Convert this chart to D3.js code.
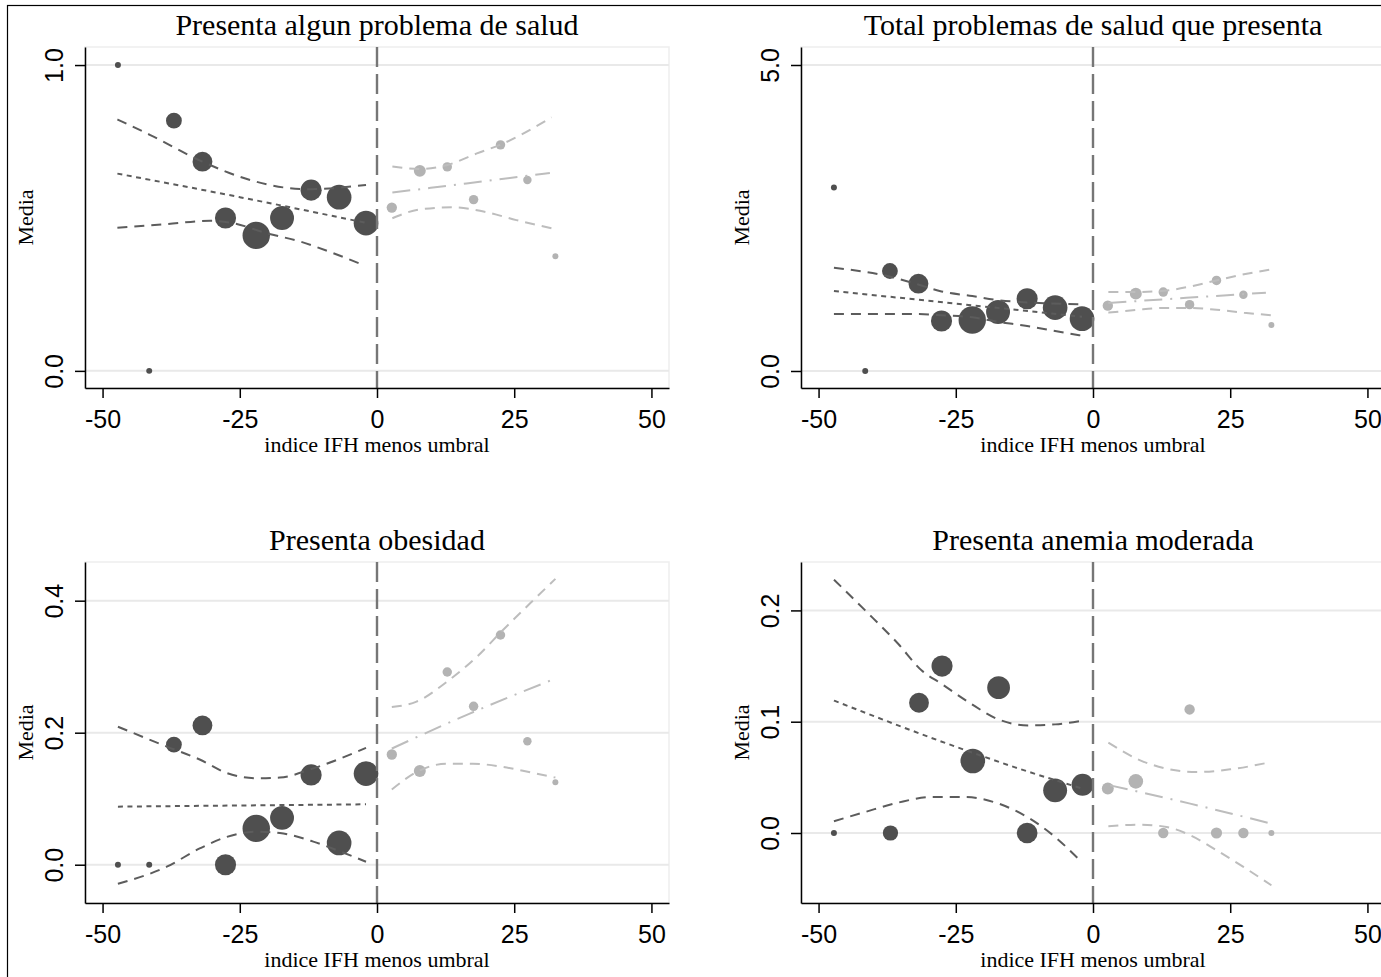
<html>

<head>
    <meta charset="utf-8">
    <script src="https://cdn.jsdelivr.net/npm/d3@7"></script>
    <style>
        body,
        html {
            padding: 0px;
            margin: 0px;
            background-color: white;
        }

        .title {
            font-family: "Liberation Serif", "Times New Roman", serif;
            font-size: 30px;
            text-anchor: middle;
            fill: #000;
        }

        .axis-title {
            font-family: "Liberation Serif", "Times New Roman", serif;
            font-size: 22px;
            text-anchor: middle;
            fill: #000;
        }

        .tick text {
            font-family: "Liberation Sans", Arial, sans-serif;
            font-size: 25px;
            fill: #000;
        }
    </style>
</head>

<body>
    <div id="container"></div>
    <script>
        // bins (x = indice IFH menos umbral) and observations per bin
        const binsLeft = [-47.2, -41.5, -37, -31.8, -27.6, -22, -17.3, -12, -6.9, -2];
        const binsRight = [2.7, 7.8, 12.8, 17.6, 22.5, 27.4, 32.5];
        const countsLeft = [2, 2, 14, 22, 25, 42, 32, 25, 34, 34];
        const countsRight = [6, 8, 5, 5, 5, 4, 2];

        // anemia has one empty bin and fewer obs
        const anemiaBinsLeft = [-47.2, -36.9, -31.7, -27.5, -21.9, -17.2, -12, -6.9, -1.9];
        const anemiaCountsLeft = [2, 13, 22, 25, 34, 29, 24, 32, 27];
        const anemiaCountsRight = [8, 12, 6, 6, 7, 6, 2];

        const titles = ["Presenta algun problema de salud", "Total problemas de salud que presenta",
            "Presenta obesidad", "Presenta anemia moderada"];
        const yTicks = [[0, 1], [0, 5], [0, 0.2, 0.4], [0, 0.1, 0.2]];
        const yDomains = [[-0.056, 1.059], [-0.278, 5.294], [-0.058, 0.4586], [-0.0629, 0.2435]];
        const xTicks = [-50, -25, 0, 25, 50];

        // Presenta algun problema de salud
        const saludLeft = [1.0, 0, 0.818, 0.684, 0.5, 0.443, 0.5, 0.591, 0.568, 0.483];
        const saludRight = [0.534, 0.654, 0.667, 0.56, 0.739, 0.624, 0.375];
        const saludFitL = [[-47.3, 0.645], [-25, 0.568], [-2, 0.484]];
        const saludHiL = [[-47.3, 0.822], [-41.3, 0.771], [-31.8, 0.684], [-23.1, 0.624], [-17.1, 0.600], [-12.2, 0.594], [-2, 0.608]];
        const saludLoL = [[-47.3, 0.468], [-38.3, 0.480], [-30.4, 0.491], [-26.2, 0.483], [-20.1, 0.45], [-14, 0.423], [-8, 0.385], [-3, 0.35]];
        const saludFitR = [[2.8, 0.583], [16.3, 0.613], [31.5, 0.647]];
        const saludHiR = [[2.8, 0.668], [7.8, 0.66], [12.8, 0.673], [18.2, 0.711], [22.4, 0.739], [31.8, 0.829]];
        const saludLoR = [[2.8, 0.499], [7.8, 0.528], [13.9, 0.535], [19.4, 0.521], [25.4, 0.493], [32.3, 0.464]];

        // Total problemas de salud
        const totalLeft = [3.0, 0, 1.634, 1.427, 0.817, 0.833, 0.964, 1.18, 1.035, 0.855];
        const totalRight = [1.067, 1.264, 1.29, 1.084, 1.48, 1.247, 0.752];
        const totalFitL = [[-47.2, 1.307], [-25, 1.101], [-2, 0.888]];
        const totalHiL = [[-47.2, 1.688], [-36.9, 1.54], [-31.7, 1.41], [-27.6, 1.30], [-22, 1.225], [-17.5, 1.16], [-12, 1.12], [-2, 1.09]];
        const totalLoL = [[-47.2, 0.931], [-31.7, 0.93], [-27.6, 0.91], [-22, 0.877], [-17.5, 0.806], [-12, 0.735], [-6.9, 0.654], [-2, 0.577]];
        const totalFitR = [[2.8, 1.111], [17, 1.195], [31.5, 1.28]];
        const totalHiR = [[2.8, 1.29], [7.8, 1.29], [12.9, 1.31], [17.7, 1.38], [22.5, 1.48], [27.5, 1.58], [32.5, 1.66]];
        const totalLoR = [[2.8, 0.953], [7.8, 0.997], [12.9, 1.03], [17.7, 1.03], [22.5, 1.0], [27.5, 0.953], [32.5, 0.91]];

        // Presenta obesidad
        const obesLeft = [0, 0, 0.182, 0.211, 0, 0.055, 0.071, 0.136, 0.033, 0.138];
        const obesRight = [0.167, 0.142, 0.292, 0.240, 0.348, 0.187, 0.125];
        const obesFitL = [[-47.2, 0.088], [-2, 0.0915]];
        const obesHiL = [[-47.2, 0.209], [-38.3, 0.179], [-32.2, 0.159], [-27.4, 0.139], [-21.9, 0.131], [-17.7, 0.132], [-11.6, 0.146], [-2, 0.177]];
        const obesLoL = [[-47.2, -0.029], [-38.3, -0.003], [-32.2, 0.025], [-27.4, 0.042], [-21.9, 0.05], [-17.7, 0.048], [-11.6, 0.035], [-6.7, 0.02], [-2, 0.0045]];
        const obesFitR = [[2.7, 0.176], [16.9, 0.229], [32.5, 0.282]];
        const obesHiR = [[2.7, 0.239], [7.2, 0.247], [12.7, 0.277], [18.2, 0.315], [23, 0.356], [27.9, 0.396], [32.5, 0.433]];
        const obesLoR = [[2.7, 0.114], [7.8, 0.143], [12.7, 0.153], [17.5, 0.153], [23, 0.148], [27.9, 0.14], [32.5, 0.132]];

        // Presenta anemia moderada
        const anemiaLeft = [0, 0, 0.117, 0.150, 0.0647, 0.1306, 0, 0.0383, 0.0434];
        const anemiaRight = [0.0399, 0.0464, 0, 0.111, 0, 0, 0];
        const anemiaFitL = [[-47.2, 0.119], [-26.4, 0.080], [-14.2, 0.059], [-2, 0.040]];
        const anemiaHiL = [[-47.2, 0.2276], [-41.5, 0.2], [-35.5, 0.170], [-31.2, 0.146], [-27.6, 0.134], [-22.7, 0.1177], [-17.2, 0.102], [-11.8, 0.0967], [-6.9, 0.0976], [-2.4, 0.1006]];
        const anemiaLoL = [[-47.2, 0.0105], [-41.5, 0.0189], [-35.5, 0.0273], [-29.4, 0.0323], [-23.3, 0.0323], [-17.2, 0.0264], [-11.8, 0.0138], [-6.9, -0.0036], [-2.7, -0.023]];
        const anemiaFitR = [[3.1, 0.0428], [17.7, 0.0264], [32.5, 0.0084]];
        const anemiaHiR = [[2.8, 0.0812], [8.6, 0.0653], [13.4, 0.0578], [18.9, 0.0548], [25, 0.0572], [32.5, 0.0638]];
        const anemiaLoR = [[2.8, 0.006], [8.6, 0.0075], [13.4, 0.0054], [17.7, -0.002], [22.5, -0.0155], [27.4, -0.0305], [32.5, -0.047]];

        const panels = [
            { left: saludLeft, right: saludRight, binsL: binsLeft, nL: countsLeft, nR: countsRight, fitL: saludFitL, hiL: saludHiL, loL: saludLoL, fitR: saludFitR, hiR: saludHiR, loR: saludLoR },
            { left: totalLeft, right: totalRight, binsL: binsLeft, nL: countsLeft, nR: countsRight, fitL: totalFitL, hiL: totalHiL, loL: totalLoL, fitR: totalFitR, hiR: totalHiR, loR: totalLoR },
            { left: obesLeft, right: obesRight, binsL: binsLeft, nL: countsLeft, nR: countsRight, fitL: obesFitL, hiL: obesHiL, loL: obesLoL, fitR: obesFitR, hiR: obesHiR, loR: obesLoR },
            { left: anemiaLeft, right: anemiaRight, binsL: anemiaBinsLeft, nL: anemiaCountsLeft, nR: anemiaCountsRight, fitL: anemiaFitL, hiL: anemiaHiL, loL: anemiaLoL, fitR: anemiaFitR, hiR: anemiaHiR, loR: anemiaLoR }
        ];

        const width = 1381;
        const height = 977;

        // plot region of the top-left panel, others are shifted
        const plotLeft = 85, plotRight = 669, plotTop = 47, plotBottom = 388;
        const colShift = 716, rowShift = 515;

        const darkColor = "#4f4f4f";
        const lightColor = "#b3b3b3";
        const darkLine = "#5c5c5c";
        const lightLine = "#bdbdbd";

        const rScale = d3.scaleSqrt().domain([0, 42]).range([0, 13.7]);

        const svg = d3.create("svg")
            .attr("width", width)
            .attr("height", height)
            .style("background-color", "white");

        // outer frame of the graph
        svg.append("rect")
            .attr("x", 7.5).attr("y", 5.5)
            .attr("width", 1500).attr("height", 1100)
            .attr("fill", "white")
            .attr("stroke", "#000")
            .attr("stroke-width", 1.2);

        const x = d3.scaleLinear().domain([-53.2, 53.2]).range([plotLeft, plotRight]);

        panels.forEach((p, i) => {
            const col = i % 2, row = Math.floor(i / 2);
            const g = svg.append("g")
                .attr("transform", `translate(${col * colShift},${row * rowShift})`);

            const y = d3.scaleLinear().domain(yDomains[i]).range([plotBottom, plotTop]);

            // plot region outline
            g.append("rect")
                .attr("x", plotLeft).attr("y", plotTop)
                .attr("width", plotRight - plotLeft).attr("height", plotBottom - plotTop)
                .attr("fill", "none")
                .attr("stroke", "#eeeeee")
                .attr("stroke-width", 1.5);

            // gridlines
            g.append("g").selectAll("line")
                .data(yTicks[i])
                .join("line")
                .attr("x1", plotLeft).attr("x2", plotRight)
                .attr("y1", d => y(d)).attr("y2", d => y(d))
                .attr("stroke", "#e9e9e9")
                .attr("stroke-width", 2);

            // markers
            const ptsL = p.left.map((v, k) => ({ x: p.binsL[k], y: v, n: p.nL[k] }));
            const ptsR = p.right.map((v, k) => ({ x: binsRight[k], y: v, n: p.nR[k] }));

            g.append("g").selectAll("circle")
                .data(ptsL)
                .join("circle")
                .attr("cx", d => x(d.x))
                .attr("cy", d => y(d.y))
                .attr("r", d => rScale(d.n))
                .attr("fill", darkColor);

            g.append("g").selectAll("circle")
                .data(ptsR)
                .join("circle")
                .attr("cx", d => x(d.x))
                .attr("cy", d => y(d.y))
                .attr("r", d => rScale(d.n))
                .attr("fill", lightColor);

            // fitted lines and intervals
            const line = d3.line()
                .x(d => x(d[0]))
                .y(d => y(d[1]))
                .curve(d3.curveMonotoneX);

            const lines = [
                { data: p.hiL, color: darkLine, dash: "10,7" },
                { data: p.loL, color: darkLine, dash: "10,7" },
                { data: p.fitL, color: darkLine, dash: "5,4.5" },
                { data: p.hiR, color: lightLine, dash: "10,7" },
                { data: p.loR, color: lightLine, dash: "10,7" },
                { data: p.fitR, color: lightLine, dash: "18,8,2,8" }
            ];

            g.append("g").selectAll("path")
                .data(lines)
                .join("path")
                .attr("d", d => line(d.data))
                .attr("fill", "none")
                .attr("stroke", d => d.color)
                .attr("stroke-width", 2)
                .attr("stroke-dasharray", d => d.dash);

            // cutoff line
            g.append("line")
                .attr("x1", x(0)).attr("x2", x(0))
                .attr("y1", plotTop).attr("y2", plotBottom)
                .attr("stroke", "#767676")
                .attr("stroke-width", 2.4)
                .attr("stroke-dasharray", "20,7");

            // axes
            const yAxis = g.append("g")
                .attr("transform", `translate(${plotLeft},0)`)
                .call(d3.axisLeft(y).tickValues(yTicks[i]).tickSize(10).tickSizeOuter(0).tickFormat(d => d.toFixed(1)));
            yAxis.selectAll("text")
                .attr("transform", "rotate(-90)")
                .attr("x", 0)
                .attr("y", -22)
                .attr("dy", 0)
                .attr("text-anchor", "middle");

            const xAxis = g.append("g")
                .attr("transform", `translate(0,${plotBottom})`)
                .call(d3.axisBottom(x).tickValues(xTicks).tickSize(10).tickSizeOuter(0).tickFormat(d => String(d)));
            xAxis.selectAll("text")
                .attr("y", 40)
                .attr("dy", 0);

            g.selectAll(".domain, .tick line")
                .attr("stroke", "#000")
                .attr("stroke-width", 1.5);

            // titles
            g.append("text")
                .attr("class", "title")
                .attr("x", (plotLeft + plotRight) / 2)
                .attr("y", 35)
                .text(titles[i]);

            g.append("text")
                .attr("class", "axis-title")
                .attr("x", (plotLeft + plotRight) / 2)
                .attr("y", 452)
                .text("indice IFH menos umbral");

            g.append("text")
                .attr("class", "axis-title")
                .attr("transform", `translate(33,${(plotTop + plotBottom) / 2}) rotate(-90)`)
                .text("Media");
        });

        container.append(svg.node());
    </script>
</body>

</html>
